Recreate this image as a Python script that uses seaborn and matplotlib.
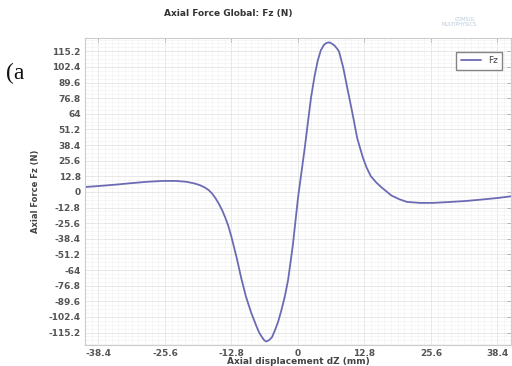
import numpy as np
import pandas as pd
import matplotlib
matplotlib.use("Agg")
import matplotlib.pyplot as plt
from matplotlib.ticker import MultipleLocator
import seaborn as sns

# values
dz = [-41, -38.4, -35, -32, -29, -26, -23.5, -21.5, -20, -19, -18, -17.2, -16.6, -15.9,
      -15.2, -14.6, -14, -13.4, -12.8, -11.8, -10.9, -10, -9, -8, -7.5, -7, -6.5, -6.1,
      -5.6, -5, -4.4, -3.8, -3.2, -2.5, -1.9, -1, 0, 1.3, 2.5, 3.2, 3.8, 4.4, 5, 5.5, 6,
      6.5, 7, 7.5, 7.9, 8.7, 9.5, 10.5, 11.4, 12.5, 13.2, 14, 15, 16, 17, 18, 19.5, 21,
      23.5, 26, 29, 32.4, 35, 38.4, 41]
fz = [4, 4.8, 6, 7.2, 8.3, 9, 9, 8.3, 7, 5.7, 3.8, 1.5, -1, -5,
      -10, -15, -21, -28, -37, -54, -71, -86, -99, -110, -115, -118.5, -121.5, -122.5,
      -121.5, -119, -113, -106, -97, -85, -72, -44, -5, 36, 77, 95, 107.5, 116, 120.5, 122, 122.5,
      121.5, 120, 117.5, 115, 102, 85, 64, 44, 28, 20, 13, 8, 4, 0.5, -3, -6, -8.2,
      -9, -9, -8.3, -7.4, -6.4, -5, -3.6]
yticks = [115.2, 102.4, 89.6, 76.8, 64, 51.2, 38.4, 25.6, 12.8, 0,
          -12.8, -25.6, -38.4, -51.2, -64, -76.8, -89.6, -102.4, -115.2]
xticks = [-38.4, -25.6, -12.8, 0, 12.8, 25.6, 38.4]

df = pd.DataFrame({"dZ": dz, "Fz": fz})

sns.set_style("white")
fig = plt.figure(figsize=(5.12, 3.66), dpi=100)
ax = fig.add_axes([0.166, 0.057, 0.832, 0.839])

sns.lineplot(data=df, x="dZ", y="Fz", color="#6b6bb5", linewidth=1.3, label="Fz", ax=ax)

ax.set_xlim(-41, 41)
ax.set_ylim(-125.5, 126)
ax.set_xticks(xticks)
ax.set_xticklabels([f"{v:g}" for v in xticks])
ax.set_yticks(yticks)
ax.set_yticklabels([f"{v:g}" for v in yticks])
ax.xaxis.set_minor_locator(MultipleLocator(1.28))
ax.yaxis.set_minor_locator(MultipleLocator(3.2))
ax.grid(which="major", color="#e4e4e4", linewidth=0.6)
ax.grid(which="minor", color="#f0f0f0", linewidth=0.4)
ax.set_axisbelow(True)
ax.tick_params(which="major", direction="in", length=3, width=0.6, color="#aaaaaa",
               labelsize=6.5, labelcolor="#555555", top=True, right=True, pad=3)
ax.tick_params(which="minor", length=0)
for lab in ax.get_xticklabels() + ax.get_yticklabels():
    lab.set_fontweight("bold")
for s in ax.spines.values():
    s.set_color("#cccccc")
    s.set_linewidth(0.8)

ax.set_xlabel("Axial displacement dZ (mm)", fontsize=6.5, color="#444444", labelpad=-1,
              fontweight="bold")
ax.set_ylabel("Axial Force Fz (N)", fontsize=6, color="#444444", labelpad=6,
              fontweight="bold")

leg = ax.legend(loc="upper right", fontsize=6.5, frameon=True, fancybox=False,
                handlelength=2.2, borderpad=0.5, bbox_to_anchor=(0.99, 0.97))
leg.get_frame().set_edgecolor("#666666")
leg.get_frame().set_linewidth(1.0)
for t in leg.get_texts():
    t.set_color("#444444")

fig.text(0.445, 0.962, "Axial Force Global: Fz (N)", fontsize=6.5, fontweight="bold",
         color="#333333", ha="center", va="center")
fig.text(0.012, 0.80, "(a", fontsize=17, family="Liberation Serif", color="#111111",
         va="center")
fig.text(0.93, 0.94, "COMSOL\nMULTIPHYSICS", fontsize=3.5, color="#b8c8dc",
         ha="right", va="center", linespacing=1.0)

fig.savefig("out.png", dpi=100)
